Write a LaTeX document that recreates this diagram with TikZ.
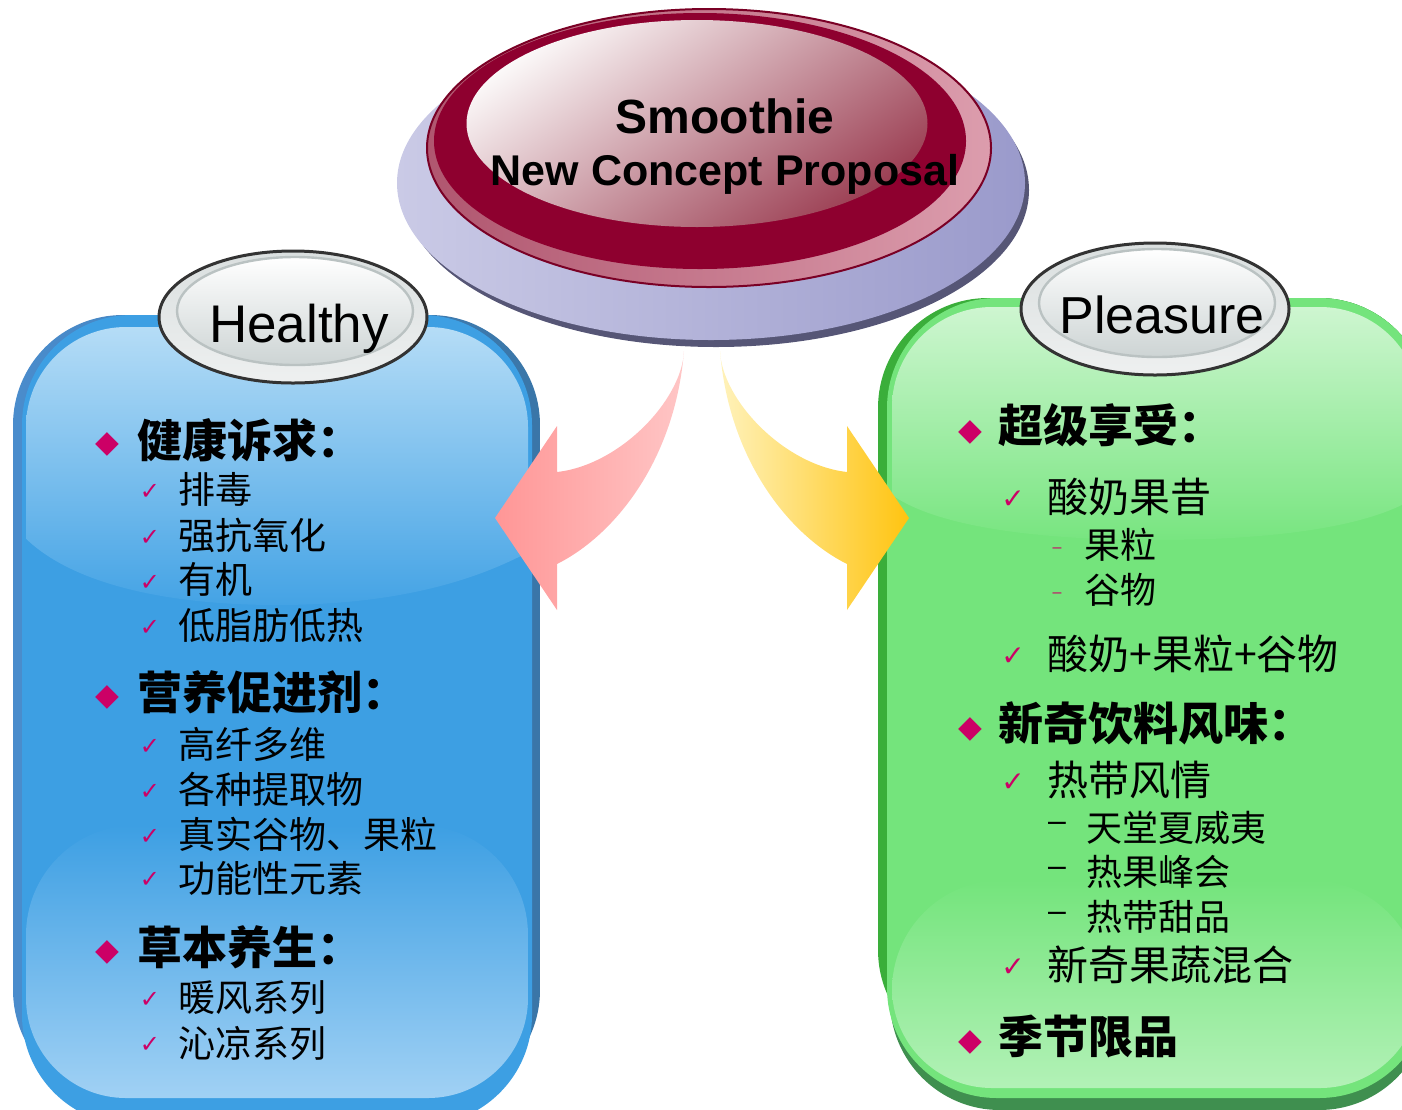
\documentclass[tikz,border=0pt]{standalone}
\usepackage{fontspec}
\setmainfont{Liberation Sans}
\newfontfamily\cjk{Noto Sans CJK SC}
\newfontfamily\dejavu{DejaVu Sans}
\definecolor{bul}{HTML}{CC0066}
\definecolor{blueDL}{HTML}{4A8CCC}
\definecolor{blueDR}{HTML}{3A76A8}
\definecolor{blueM}{HTML}{3D9FE3}
\definecolor{blueT}{HTML}{C0E2F8}
\definecolor{blueT2}{HTML}{44A3E5}
\definecolor{blueBL}{HTML}{A5D3F5}
\definecolor{gDL}{HTML}{3AAE3A}
\definecolor{gDB}{HTML}{3F8F4F}
\definecolor{gM}{HTML}{74E47C}
\definecolor{gT}{HTML}{D4F7D6}
\definecolor{gT2}{HTML}{78E580}
\definecolor{gBL}{HTML}{B6F2BA}
\definecolor{pinkL}{HTML}{FF9696}
\definecolor{pinkR}{HTML}{FFC6C6}
\definecolor{yelL}{HTML}{FFF2BB}
\definecolor{yelR}{HTML}{FFC410}
\definecolor{purpL}{HTML}{CACAE6}
\definecolor{purpR}{HTML}{9A9ACB}
\definecolor{purpD}{HTML}{565676}
\definecolor{ringL}{HTML}{B0566F}
\definecolor{ringR}{HTML}{DC9DAD}
\definecolor{redO}{HTML}{7A0025}
\definecolor{redD}{HTML}{8E002F}
\definecolor{hiT}{HTML}{FBF8F8}
\definecolor{hiM}{HTML}{D8BCC0}
\definecolor{hiB}{HTML}{9C4054}
\definecolor{silT}{HTML}{DADFDF}
\definecolor{silB}{HTML}{EEF0F0}
\definecolor{silI}{HTML}{CDD4D4}
\definecolor{silR}{HTML}{BAC2C2}
\definecolor{silO}{HTML}{333333}
\tikzset{
  head/.style={anchor=west, inner sep=0pt, font=\cjk\bfseries\fontsize{22.5}{24}\selectfont},
  itemL/.style={anchor=west, inner sep=0pt, font=\cjk\fontsize{18.5}{20}\selectfont},
  itemR/.style={anchor=west, inner sep=0pt, font=\cjk\fontsize{20.5}{22}\selectfont},
  subR/.style={anchor=west, inner sep=0pt, font=\cjk\fontsize{18}{20}\selectfont},
  dia/.style={inner sep=0pt, text=bul, font=\dejavu\fontsize{15.5}{16}\selectfont},
  chkL/.style={inner sep=0pt, text=bul, font=\dejavu\fontsize{12}{13}\selectfont},
  chkR/.style={inner sep=0pt, text=bul, font=\dejavu\fontsize{14}{15}\selectfont},
  dashP/.style={inner sep=0pt, text=bul, font=\fontsize{8}{9}\selectfont},
  dashB/.style={inner sep=0pt, text=black, font=\fontsize{16}{17}\selectfont},
  oval/.style={inner sep=0pt, anchor=base, font=\fontsize{26.5}{28}\selectfont},
  title/.style={inner sep=0pt, anchor=base, font=\bfseries\fontsize{24}{26}\selectfont},
}
\begin{document}
\begin{tikzpicture}[x=0.5pt,y=-0.5pt]
\useasboundingbox (0,0) rectangle (1402,1109);
\clip (0,0) rectangle (1402,1109);

% ---------- blue box ----------
\shade[left color=blueDL, right color=blueDR, rounded corners=55pt] (13,315) rectangle (540,1100);
\fill[blueM, rounded corners=55pt] (22,315) rectangle (532,1125);
\begin{scope}
  \clip[rounded corners=50pt] (26,327) rectangle (528,1098);
  \fill[blueM] (26,327) rectangle (528,1098);
  \shade[top color=blueT, bottom color=blueT2] (0,300) -- (600,300) -- (600,500)
     .. controls (528,570) and (420,605) .. (277,605) .. controls (134,605) and (26,570) .. (0,500) -- cycle;
  \shade[top color=blueM, bottom color=blueBL, rounded corners=55pt] (26,825) rectangle (528,1110);
\end{scope}

% ---------- green box ----------
\fill[gDB, rounded corners=55pt] (890,298) rectangle (1429,1110);
\fill[gDL, rounded corners=55pt] (878,298) rectangle (1429,1060);
\fill[gM, rounded corners=55pt] (887,298) rectangle (1429,1098);
\begin{scope}
  \clip[rounded corners=50pt] (892,307) rectangle (1420,1088);
  \fill[gM] (892,307) rectangle (1420,1088);
  \shade[top color=gT, bottom color=gT2] (870,290) -- (1440,290) -- (1440,470)
     .. controls (1420,520) and (1300,540) .. (1156,540) .. controls (1010,540) and (892,520) .. (870,470) -- cycle;
  \shade[top color=gM, bottom color=gBL, rounded corners=55pt] (892,880) rectangle (1420,1100);
\end{scope}

% ---------- arrows ----------
\shade[left color=pinkL, right color=pinkR] (684,351)
  .. controls (682,400) and (620,465) .. (557,472) -- (557,426) -- (495,518) -- (557,610) -- (557,564)
  .. controls (615,535) and (675,460) .. (684,351) -- cycle;
\shade[left color=yelL, right color=yelR] (720,351)
  .. controls (722,400) and (784,465) .. (847,472) -- (847,426) -- (909,518) -- (847,610) -- (847,564)
  .. controls (789,535) and (729,460) .. (720,351) -- cycle;

% ---------- top button ----------
\fill[purpD] (716,190) ellipse [x radius=313, y radius=157];
\shade[left color=purpL, right color=purpR] (711,183) ellipse [x radius=314, y radius=157];
\shadedraw[left color=ringL, right color=ringR, draw=redO, line width=1pt] (709,148) ellipse [x radius=282, y radius=139];
\fill[redD] (700,141) ellipse [x radius=266, y radius=128];
\shade[top color=hiT, middle color=hiM, bottom color=hiB, shading angle=35] (697,123.5) ellipse [x radius=230.5, y radius=103.5];
\node[title] (smoothie) at (725,133) {Smoothie};
\node[title, font=\bfseries\fontsize{21.5}{23}\selectfont] (ncp) at (725,185) {New Concept Proposal};

% ---------- silver ovals ----------
\shadedraw[top color=silT, bottom color=silB, draw=silO, line width=1.5pt] (293,317) ellipse [x radius=134, y radius=66];
\shadedraw[top color=white, bottom color=silI, draw=silR, line width=1.2pt] (295,311) ellipse [x radius=118, y radius=54];
\node[oval] (healthy) at (299,342) {Healthy};
\shadedraw[top color=silT, bottom color=silB, draw=silO, line width=1.5pt] (1155,309) ellipse [x radius=134, y radius=66];
\shadedraw[top color=white, bottom color=silI, draw=silR, line width=1.2pt] (1157,303) ellipse [x radius=118, y radius=54];
\node[oval, font=\fontsize{26}{28}\selectfont] (pleasure) at (1162,333) {Pleasure};

% ---------- left texts ----------
\node[dia] (dL1) at (107,444) {◆};
\node[head] (hL1) at (137,440) {健康诉求：};
\node[chkL] (cL1) at (150,492) {✓};
\node[itemL] (tL1) at (178,489) {排毒};
\node[chkL] (cL2) at (150,538) {✓};
\node[itemL] (tL2) at (178,535) {强抗氧化};
\node[chkL] (cL3) at (150,583) {✓};
\node[itemL] (tL3) at (178,579) {有机};
\node[chkL] (cL4) at (150,628) {✓};
\node[itemL] (tL4) at (178,625) {低脂肪低热};

\node[dia] (dL2) at (107,697) {◆};
\node[head] (hL2) at (137,692) {营养促进剂：};
\node[chkL] (cL5) at (150,747) {✓};
\node[itemL] (tL5) at (178,744) {高纤多维};
\node[chkL] (cL6) at (150,792) {✓};
\node[itemL] (tL6) at (178,789) {各种提取物};
\node[chkL] (cL7) at (150,837) {✓};
\node[itemL] (tL7) at (178,834) {真实谷物、果粒};
\node[chkL] (cL8) at (150,880) {✓};
\node[itemL] (tL8) at (178,878) {功能性元素};

\node[dia] (dL3) at (107,952) {◆};
\node[head] (hL3) at (137,947) {草本养生：};
\node[chkL] (cL9) at (150,1000) {✓};
\node[itemL] (tL9) at (178,998) {暖风系列};
\node[chkL] (cL10) at (150,1045) {✓};
\node[itemL] (tL10) at (178,1043) {沁凉系列};

% ---------- right texts ----------
\node[dia] (dR1) at (970,432) {◆};
\node[head] (hR1) at (998,425) {超级享受：};
\node[chkR] (cR1) at (1013,500) {✓};
\node[itemR] (tR1) at (1047,497) {酸奶果昔};
\node[dashP] (sR1) at (1057,550) {–};
\node[subR] (tR2) at (1084,545) {果粒};
\node[dashP] (sR2) at (1057,595) {–};
\node[subR] (tR3) at (1084,590) {谷物};
\node[chkR] (cR2) at (1013,657) {✓};
\node[itemR] (tR4) at (1047,654) {酸奶+果粒+谷物};

\node[dia] (dR2) at (970,729) {◆};
\node[head] (hR2) at (998,723) {新奇饮料风味：};
\node[chkR] (cR3) at (1013,783) {✓};
\node[itemR] (tR5) at (1047,780) {热带风情};
\node[dashB] (sR3) at (1057,827) {–};
\node[subR] (tR6) at (1086,828) {天堂夏威夷};
\node[dashB] (sR4) at (1057,872) {–};
\node[subR] (tR7) at (1086,872) {热果峰会};
\node[dashB] (sR5) at (1057,917) {–};
\node[subR] (tR8) at (1086,917) {热带甜品};
\node[chkR] (cR4) at (1013,968) {✓};
\node[itemR] (tR9) at (1047,965) {新奇果蔬混合};

\node[dia] (dR3) at (970,1042) {◆};
\node[head] (hR3) at (998,1036) {季节限品};
\end{tikzpicture}
\end{document}
